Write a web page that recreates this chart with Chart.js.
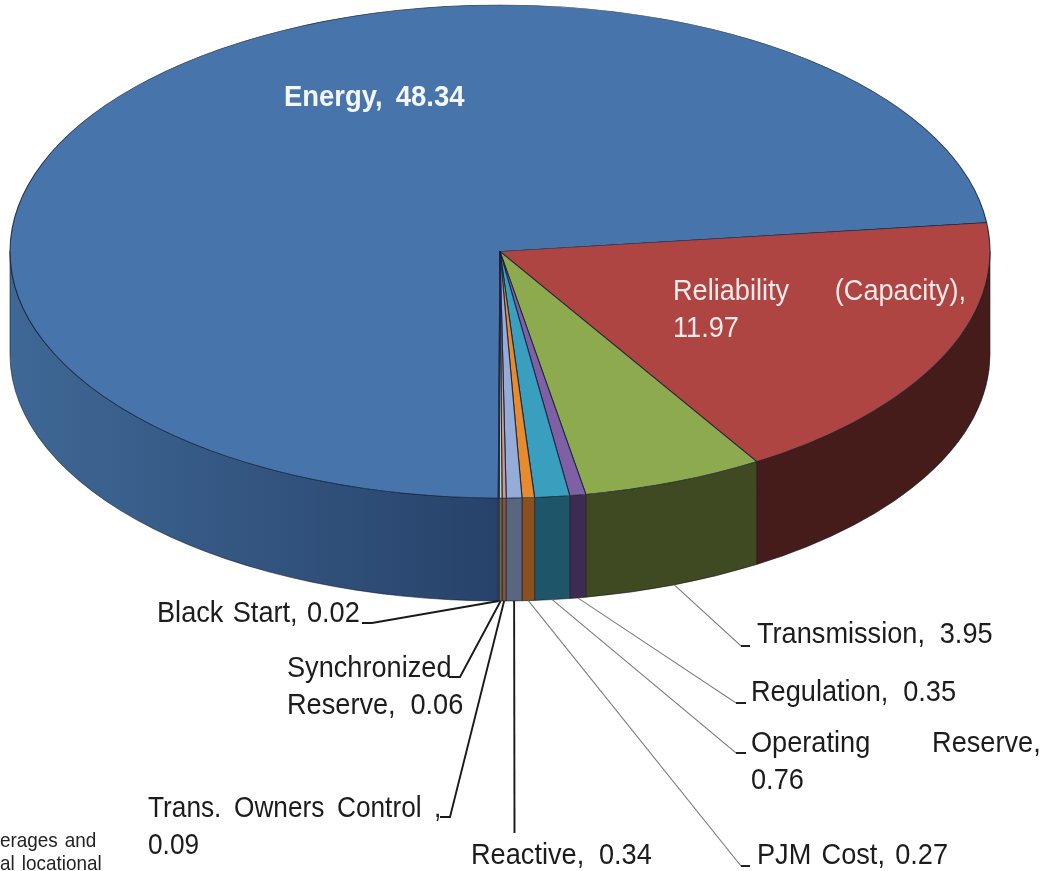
<!DOCTYPE html>
<html>
<head>
<meta charset="utf-8">
<title>Price components</title>
<script src="https://cdn.jsdelivr.net/npm/chart.js@4"></script>
<style>
  html, body { margin: 0; padding: 0; background: #fff; overflow: hidden; }
  canvas { display: block; filter: blur(0.5px); }
</style>
</head>
<body>
<canvas id="pie" width="1048" height="871"></canvas>
<script>
const categories = [
  'Energy',
  'Reliability (Capacity)',
  'Transmission',
  'Regulation',
  'Operating Reserve',
  'PJM Cost',
  'Reactive',
  'Trans. Owners Control ',
  'Synchronized Reserve',
  'Black Start',
];
const values = [48.34, 11.97, 3.95, 0.35, 0.76, 0.27, 0.34, 0.09, 0.06, 0.02];

const topColors = ['#4674ab', '#ae4543', '#8eaa4e', '#7f60a5', '#3a9fbf', '#e88b2e', '#95abd8', '#c99a98', '#c3d69b', '#b3a2c7'];
const wallLeft = ['#3f6896', '#451c1a', '#3f4a22', '#3e2b52', '#1e5568', '#8a5020', '#5a6580', '#7a5548', '#6a6a40', '#6a5a70'];
const wallRight = ['#27426a', '#451c1a', '#3f4a22', '#3e2b52', '#1e5568', '#8a5020', '#5a6580', '#7a5548', '#6a6a40', '#6a5a70'];

const ellipse = { cx: 500, cy: 251.5, rx: 490, ry: 246.5, depth: 103 };

// one entry per category, firstLine = words before the line break
const labelLayout = [
  { x: 284, y: 106, sx: 0.915, gap: 6, color: '#f4f6fa', weight: 'bold' },
  { x: 673, y: 300, sx: 0.905, gap: 42, firstLine: 2, color: '#f0eaea' },
  { x: 757, y: 643, sx: 0.905, gap: 8, tick: [741, 646, 750, 646] },
  { x: 751, y: 701, sx: 0.905, gap: 8, tick: [736, 703, 746, 703] },
  { x: 751, y: 752, sx: 0.905, gap: 60, firstLine: 2, tick: [736, 753, 746, 753] },
  { x: 757, y: 864, sx: 0.905, gap: 3, tick: [741, 866, 750, 866] },
  { x: 471, y: 864, sx: 0.905, gap: 8, tick: [514.5, 833, 514.5, 833], dark: true },
  { x: 148, y: 817, sx: 0.875, gap: 6, firstLine: 4, tick: [450, 817, 440, 817], dark: true },
  { x: 287, y: 677, sx: 0.905, gap: 8, firstLine: 1, tick: [460, 677, 449, 677], dark: true },
  { x: 157, y: 622, sx: 0.905, gap: 2, tick: [372, 623, 362, 623], dark: true },
];
const footerLines = [
  { text: 'erages and', x: 0, y: 847 },
  { text: 'al locational', x: 0, y: 870 },
];

function arcPoint(angle, drop) {
  return {
    x: ellipse.cx + ellipse.rx * Math.cos(angle),
    y: ellipse.cy + ellipse.ry * Math.sin(angle) + drop,
  };
}

// front wall of the disc, only the part of each slice facing the viewer
function drawWalls(chart) {
  const ctx = chart.ctx;
  const arcs = chart.getDatasetMeta(0).data;
  arcs.forEach((arc, i) => {
    const twoPi = Math.PI * 2;
    let start = arc.startAngle % twoPi;
    let end = arc.endAngle % twoPi;
    if (end < start) end += twoPi;
    const from = Math.max(start, start > Math.PI ? twoPi : 0);
    const to = Math.min(end, start > Math.PI ? twoPi + Math.PI : Math.PI);
    if (to <= from) return;

    const grad = ctx.createLinearGradient(ellipse.cx - ellipse.rx, 0, ellipse.cx, 0);
    grad.addColorStop(0, wallLeft[i]);
    grad.addColorStop(1, wallRight[i]);

    ctx.beginPath();
    ctx.ellipse(ellipse.cx, ellipse.cy, ellipse.rx, ellipse.ry, 0, from, to);
    ctx.ellipse(ellipse.cx, ellipse.cy + ellipse.depth, ellipse.rx, ellipse.ry, 0, to, from, true);
    ctx.closePath();
    ctx.fillStyle = grad;
    ctx.fill();
    ctx.strokeStyle = 'rgba(15, 20, 35, 0.7)';
    ctx.lineWidth = 0.8;
    ctx.stroke();
  });
}

function drawText(ctx, text, x, y, sx, gap, font, color) {
  ctx.save();
  ctx.translate(x, y);
  ctx.scale(sx, 1);
  ctx.font = font;
  ctx.fillStyle = color;
  ctx.wordSpacing = gap + 'px';
  ctx.textBaseline = 'alphabetic';
  ctx.fillText(text, 0, 0);
  ctx.restore();
}

function drawLabels(chart) {
  const ctx = chart.ctx;
  const arcs = chart.getDatasetMeta(0).data;
  categories.forEach((name, i) => {
    const layout = labelLayout[i];
    const color = layout.color || '#1c1c1c';
    const font = (layout.weight || 'normal') + ' 30px "Liberation Sans"';
    const words = (name + ', ' + values[i]).split(' ');
    const cut = layout.firstLine || words.length;
    const first = words.slice(0, cut).join(' ');
    const rest = words.slice(cut).join(' ');

    if (layout.tick) {
      const mid = (arcs[i].startAngle + arcs[i].endAngle) / 2;
      const from = arcPoint(mid, ellipse.depth);
      ctx.beginPath();
      ctx.moveTo(from.x, from.y);
      ctx.lineTo(layout.tick[0], layout.tick[1]);
      ctx.lineTo(layout.tick[2], layout.tick[3]);
      ctx.strokeStyle = layout.dark ? '#1a1a1a' : '#7c7c7c';
      ctx.lineWidth = layout.dark ? 1.9 : 1.1;
      ctx.stroke();
      // the short tick beside the label is always dark
      ctx.beginPath();
      ctx.moveTo(layout.tick[0], layout.tick[1]);
      ctx.lineTo(layout.tick[2], layout.tick[3]);
      ctx.strokeStyle = '#1a1a1a';
      ctx.lineWidth = 1.9;
      ctx.stroke();
    }

    drawText(ctx, first, layout.x, layout.y, layout.sx, layout.gap, font, color);
    if (rest) drawText(ctx, rest, layout.x, layout.y + 37, layout.sx, 8, font, color);
  });

  footerLines.forEach((line) => {
    drawText(ctx, line.text, line.x, line.y, 0.9, 2, '21px "Liberation Sans"', '#222');
  });
}

const flattenPlugin = {
  id: 'flatten',
  beforeDatasetsDraw(chart) {
    drawWalls(chart);
    const ctx = chart.ctx;
    const arc = chart.getDatasetMeta(0).data[0];
    ctx.save();
    ctx.translate(ellipse.cx, ellipse.cy);
    ctx.scale(ellipse.rx / arc.outerRadius, ellipse.ry / arc.outerRadius);
    ctx.translate(-arc.x, -arc.y);
  },
  afterDatasetsDraw(chart) {
    chart.ctx.restore();
    drawLabels(chart);
  },
};

const ctx = document.getElementById('pie').getContext('2d');
new Chart(ctx, {
  type: 'pie',
  data: {
    labels: categories,
    datasets: [
      {
        data: values,
        backgroundColor: topColors,
        borderColor: 'rgba(20, 30, 55, 0.85)',
        borderWidth: 1,
        clip: false,
      },
    ],
  },
  options: {
    responsive: false,
    animation: false,
    events: [],
    rotation: 180.2,
    plugins: {
      legend: { display: false },
      tooltip: { enabled: false },
    },
  },
  plugins: [flattenPlugin],
});
</script>
</body>
</html>
